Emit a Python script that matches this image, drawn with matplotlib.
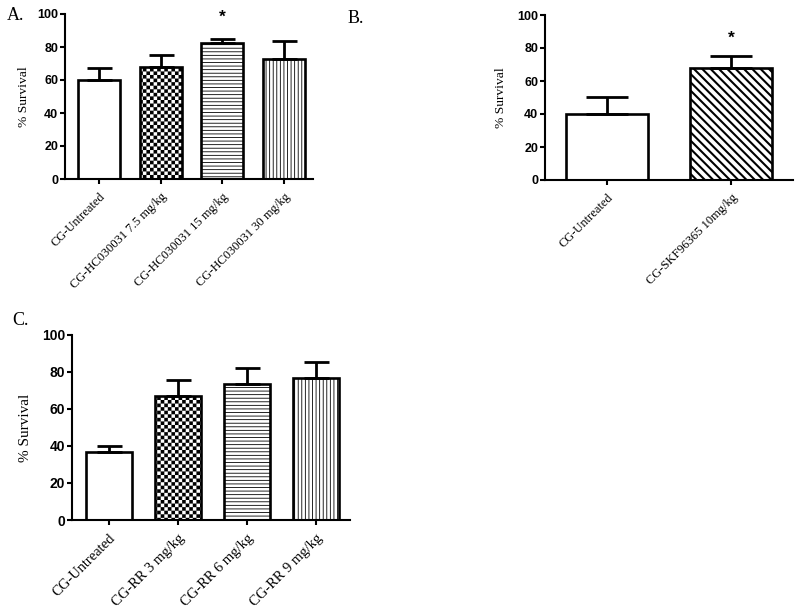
import numpy as np
import matplotlib
matplotlib.use("Agg")
import matplotlib.pyplot as plt
import matplotlib.hatch as mhatch
from matplotlib.path import Path

# ---------------- data ----------------
cats_a = ["CG-Untreated", "CG-HC030031 7.5 mg/kg", "CG-HC030031 15 mg/kg", "CG-HC030031 30 mg/kg"]
mean_a = [60.2, 67.9, 82.6, 72.5]
err_a = [7.0, 7.3, 2.5, 11.1]
sig_a = [False, False, True, False]

cats_b = ["CG-Untreated", "CG-SKF96365 10mg/kg"]
mean_b = [40.1, 67.7]
err_b = [10.1, 7.5]
sig_b = [False, True]

cats_c = ["CG-Untreated", "CG-RR 3 mg/kg", "CG-RR 6 mg/kg", "CG-RR 9 mg/kg"]
mean_c = [36.9, 67.0, 73.7, 76.8]
err_c = [3.3, 8.7, 8.6, 8.8]

yticks = [0, 20, 40, 60, 80, 100]


# ---------------- custom hatch patterns ----------------
class CheckerHatch(mhatch.HatchPatternBase):
    def __init__(self, hatch, density):
        n = hatch.count('O')
        self.cells = 28 * n
        self.squares = [(i, j) for i in range(self.cells) for j in range(self.cells)
                        if (i + j) % 2 == 0]
        self.num_vertices = len(self.squares) * 5

    def set_vertices_and_codes(self, vertices, codes):
        s = 1.0 / self.cells
        k = 0
        for i, j in self.squares:
            x0, y0 = i * s, j * s
            vertices[k:k + 5] = [(x0, y0), (x0 + s, y0), (x0 + s, y0 + s),
                                 (x0, y0 + s), (x0, y0)]
            codes[k:k + 5] = [Path.MOVETO, Path.LINETO, Path.LINETO,
                              Path.LINETO, Path.CLOSEPOLY]
            k += 5


class HLines(mhatch.HorizontalHatch):
    def __init__(self, hatch, density):
        self.num_lines = hatch.count('-') * 28
        self.num_vertices = self.num_lines * 2


class VLines(mhatch.VerticalHatch):
    def __init__(self, hatch, density):
        self.num_lines = hatch.count('|') * 28
        self.num_vertices = self.num_lines * 2


class SELines(mhatch.SouthEastHatch):
    def __init__(self, hatch, density):
        self.num_lines = hatch.count('\\') * 12
        self.num_vertices = (self.num_lines + 1) * 2 if self.num_lines else 0


mhatch._hatch_types = [HLines, VLines, SELines, CheckerHatch]

SERIF = "Liberation Serif"
SANS = "Liberation Sans"

fig = plt.figure(figsize=(8.0, 6.1), dpi=100)


def style_axes(ax, cats, xlim, tick_fs, cat_fs, lab_fs, lab_x):
    ax.set_xlim(*xlim)
    ax.set_ylim(0, 100)
    for s in ["top", "right"]:
        ax.spines[s].set_visible(False)
    for s in ["left", "bottom"]:
        ax.spines[s].set_linewidth(1.5)
    ax.set_yticks(yticks)
    ax.set_yticklabels([str(t) for t in yticks], fontfamily=SANS,
                       fontweight="bold", fontsize=tick_fs)
    ax.set_xticks(np.arange(len(cats)))
    ax.set_xticklabels(cats, rotation=45, ha="right", va="top",
                       rotation_mode="anchor", fontfamily=SERIF, fontsize=cat_fs)
    ax.tick_params(axis="y", direction="out", length=3.5, width=1.5, pad=1.5)
    ax.tick_params(axis="x", direction="out", length=3.5, width=1.5, pad=5)
    ax.set_ylabel("% Survival", fontfamily=SERIF, fontsize=lab_fs)
    ax.yaxis.set_label_coords(lab_x, 0.5)


def draw_bars(ax, means, errs, hatches, hlws, width, capsize):
    x = np.arange(len(means))
    for i in range(len(means)):
        with plt.rc_context({"hatch.linewidth": hlws[i]}):
            b = ax.bar(x[i], means[i], width=width, color="white",
                       edgecolor="black", linewidth=1.9, hatch=hatches[i],
                       zorder=2)
            for p in b.patches:
                if hasattr(p, "set_hatch_linewidth"):
                    p.set_hatch_linewidth(hlws[i])
    ax.errorbar(x, means, yerr=[np.zeros(len(errs)), errs], fmt="none",
                ecolor="black", elinewidth=2.0, capsize=capsize,
                capthick=2.0, zorder=3)


# ---------------- panel A ----------------
axA = fig.add_axes([65 / 800, 1 - 179 / 610, 248 / 800, 165 / 610])
draw_bars(axA, mean_a, err_a, [None, "O", "-", "|"],
          [1.0, 0.05, 0.6, 0.6], 0.68, 9)
style_axes(axA, cats_a, (-0.55, 3.47), 9, 9, 9.7, -0.141)
for i, s in enumerate(sig_a):
    if s:
        axA.annotate("*", (i, mean_a[i] + err_a[i]), xytext=(0, 10),
                     textcoords="offset points", ha="center", va="bottom",
                     fontfamily=SANS, fontweight="bold", fontsize=12.5)

# ---------------- panel B ----------------
axB = fig.add_axes([545 / 800, 1 - 180 / 610, 248 / 800, 165 / 610])
draw_bars(axB, mean_b, err_b, [None, "\\\\"], [1.0, 1.5], 0.66, 15)
style_axes(axB, cats_b, (-0.5, 1.5), 9, 9, 9.7, -0.153)
for i, s in enumerate(sig_b):
    if s:
        axB.annotate("*", (i, mean_b[i] + err_b[i]), xytext=(0, 7),
                     textcoords="offset points", ha="center", va="bottom",
                     fontfamily=SANS, fontweight="bold", fontsize=12.5)

# ---------------- panel C ----------------
axC = fig.add_axes([72 / 800, 1 - 520 / 610, 278 / 800, 185 / 610])
draw_bars(axC, mean_c, err_c, [None, "O", "-", "|"],
          [1.0, 0.05, 0.6, 0.6], 0.67, 9)
style_axes(axC, cats_c, (-0.536, 3.49), 10, 10.5, 11, -0.144)

# panel letters
fig.text(7 / 800, 1 - 20 / 610, "A.", fontfamily=SERIF, fontsize=13)
fig.text(348 / 800, 1 - 23 / 610, "B.", fontfamily=SERIF, fontsize=13)
fig.text(12 / 800, 1 - 325 / 610, "C.", fontfamily=SERIF, fontsize=13)

fig.savefig("out.png", dpi=100)
